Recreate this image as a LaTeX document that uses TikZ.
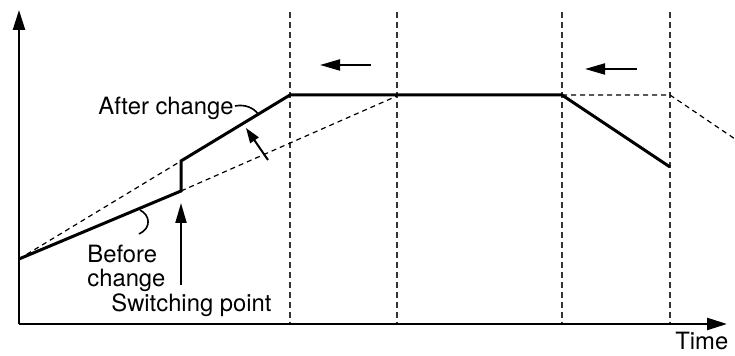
\documentclass[tikz,border=0pt]{standalone}
\usepackage{fontspec}
\setmainfont{TeX Gyre Heros}
\usetikzlibrary{arrows.meta}
\begin{document}
\begin{tikzpicture}[x=0.5pt,y=-0.5pt,
  axis/.style={line width=1.2pt,-{Triangle[length=10pt,width=6pt]}},
  curve/.style={line width=1.5pt,line join=miter},
  guide/.style={line width=0.6pt,dash pattern=on 2.5pt off 2pt},
  vguide/.style={line width=0.6pt,dash pattern=on 3pt off 2pt,black!80},
  ptr/.style={line width=1pt,-{Triangle[length=10pt,width=5.5pt]}},
  sptr/.style={line width=1pt,-{Triangle[length=7.5pt,width=5pt]}},
  lead/.style={line width=0.8pt},
  lbl/.style={font=\fontsize{11.9}{12.5}\selectfont,inner sep=0pt}]
\useasboundingbox (0,0) rectangle (735,356);
% coordinates
\coordinate (C) at (19,324);
\coordinate (YT) at (19,10);
\coordinate (XT) at (727,324);
\coordinate (O) at (19,259);
\coordinate (S1) at (181,191);
\coordinate (S2) at (181,161);
\coordinate (P1) at (290,95);
\coordinate (P2) at (562,95);
\coordinate (P3) at (670,167);
\coordinate (L1) at (397,96);
\coordinate (Q1) at (670,95);
\coordinate (Q2) at (735,139);
% vertical guides
\foreach \x/\n in {290/a,397/b,562/c,670/d}{
  \coordinate (V\n t) at (\x,12);
  \coordinate (V\n b) at (\x,324);
  \draw[vguide] (V\n t) -- (V\n b);
}
% axes
\draw[axis] (C) -- (YT);
\draw[axis] (C) -- (XT);
% dashed references
\draw[guide] (O) -- (S2);
\draw[guide] (S1) -- (L1);
\draw[guide] (P2) -- (Q1) -- (Q2);
% solid curve
\draw[curve] (O) -- (S1) -- (S2) -- (P1) -- (P2) -- (P3);
% arrows
\coordinate (A1s) at (371,65); \coordinate (A1e) at (320,65);
\coordinate (A2s) at (637,69); \coordinate (A2e) at (585,69);
\coordinate (A3s) at (268,160); \coordinate (A3e) at (246,128);
\coordinate (A4s) at (181,285); \coordinate (A4e) at (181,203);
\draw[ptr] (A1s) -- (A1e);
\draw[ptr] (A2s) -- (A2e);
\draw[sptr] (A3s) -- (A3e);
\draw[ptr] (A4s) -- (A4e);
% labels
\node[lbl,anchor=base west] (after) at (98,115) {After change};
\node[lbl,anchor=base west] (before) at (87,263) {Before};
\node[lbl,anchor=base west] (before2) at (87,287) {change};
\node[lbl,anchor=base west] (switch) at (111,312) {Switching point};
\node[lbl,anchor=base west] (time) at (675,350) {Time};
% leaders
\coordinate (LA1) at (235,106); \coordinate (LA2) at (258,114);
\draw[lead] (LA1) .. controls (245,104) and (254,108) .. (LA2);
\coordinate (LB1) at (140,210); \coordinate (LB2) at (139,234);
\draw[lead] (LB1) .. controls (150,215) and (152,228) .. (LB2);
\end{tikzpicture}
\end{document}
